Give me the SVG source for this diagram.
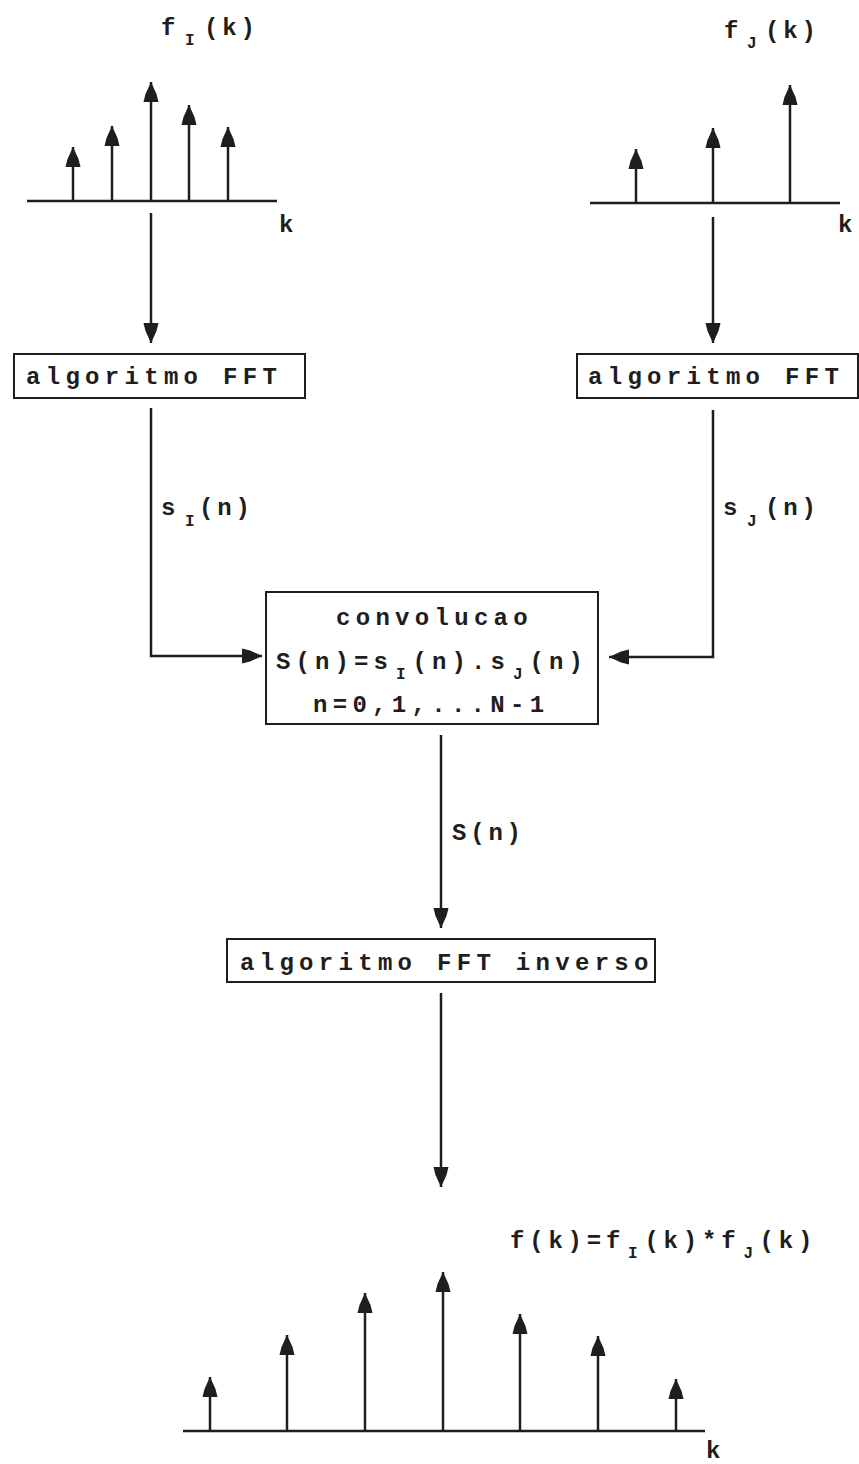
<svg xmlns="http://www.w3.org/2000/svg" width="859" height="1464" viewBox="0 0 859 1464">
<defs>
<style>
.t{font-family:"Liberation Mono","DejaVu Sans Mono",monospace;font-size:24px;font-weight:bold;fill:#1e1e1e}
.bx{letter-spacing:5.3px}
.lb{letter-spacing:3.8px}
.sub{font-family:"Liberation Mono","DejaVu Sans Mono",monospace;font-size:16px;font-weight:bold;fill:#1e1e1e}
.ln{stroke:#1e1e1e;stroke-width:2.5;fill:none}
.box{stroke:#1e1e1e;stroke-width:2;fill:#fff}
.ax{stroke:#1e1e1e;stroke-width:2.5}
</style>
<marker id="ah" markerUnits="userSpaceOnUse" markerWidth="20" markerHeight="16" viewBox="0 0 20 16" refX="20" refY="8" orient="auto">
<path d="M0,0.5 L8,2.5 L20,8 L8,13.5 L0,15.5 Z" fill="#1e1e1e"/>
</marker>
</defs>
<rect width="859" height="1464" fill="#fff"/>

<g id="plot-fI">
<line class="ax" x1="27" y1="201" x2="277" y2="201"/>
<line class="ln" x1="73" y1="201" x2="73" y2="147" marker-end="url(#ah)"/>
<line class="ln" x1="112" y1="201" x2="112" y2="126" marker-end="url(#ah)"/>
<line class="ln" x1="151" y1="201" x2="151" y2="82" marker-end="url(#ah)"/>
<line class="ln" x1="189" y1="201" x2="189" y2="105" marker-end="url(#ah)"/>
<line class="ln" x1="228" y1="201" x2="228" y2="127" marker-end="url(#ah)"/>
<text class="t" x="161" y="35">f</text><text class="sub" x="185" y="45">I</text><text class="t lb" x="204" y="35">(k)</text>
<text class="t" x="279" y="232">k</text>
</g>

<g id="plot-fJ">
<line class="ax" x1="590" y1="203" x2="840" y2="203"/>
<line class="ln" x1="636" y1="203" x2="636" y2="149" marker-end="url(#ah)"/>
<line class="ln" x1="713" y1="203" x2="713" y2="128" marker-end="url(#ah)"/>
<line class="ln" x1="790" y1="203" x2="790" y2="85" marker-end="url(#ah)"/>
<text class="t" x="724" y="38">f</text><text class="sub" x="747" y="48">J</text><text class="t lb" x="765" y="38">(k)</text>
<text class="t" x="838" y="232">k</text>
</g>

<g id="fft-left">
<rect class="box" x="14" y="354" width="291" height="44"/>
<text class="t bx" x="26" y="384">algoritmo FFT</text>
</g>

<g id="fft-right">
<rect class="box" x="577" y="354" width="281" height="44"/>
<text class="t bx" x="588" y="384">algoritmo FFT</text>
</g>

<g id="convolucao">
<rect class="box" x="266" y="592" width="332" height="132"/>
<text class="t bx" x="336" y="625">convolucao</text>
<text class="t"><tspan x="276 295.5 315 334.5 354 373.5" y="669">S(n)=s</tspan></text>
<text class="sub" x="396" y="679">I</text>
<text class="t"><tspan x="412.5 432 451.5 471 490.5" y="669">(n).s</tspan></text>
<text class="sub" x="513" y="679">J</text>
<text class="t"><tspan x="529.5 549 568.5" y="669">(n)</tspan></text>
<text class="t bx" x="313" y="712">n=0,1,...N-1</text>
</g>

<g id="fft-inverso">
<rect class="box" x="227" y="939" width="428" height="43"/>
<text class="t bx" x="240" y="970">algoritmo FFT inverso</text>
</g>

<g id="plot-f">
<line class="ax" x1="183" y1="1431" x2="705" y2="1431"/>
<line class="ln" x1="210" y1="1431" x2="210" y2="1377" marker-end="url(#ah)"/>
<line class="ln" x1="287" y1="1431" x2="287" y2="1335" marker-end="url(#ah)"/>
<line class="ln" x1="365" y1="1431" x2="365" y2="1293" marker-end="url(#ah)"/>
<line class="ln" x1="443" y1="1431" x2="443" y2="1272" marker-end="url(#ah)"/>
<line class="ln" x1="520" y1="1431" x2="520" y2="1314" marker-end="url(#ah)"/>
<line class="ln" x1="598" y1="1431" x2="598" y2="1336" marker-end="url(#ah)"/>
<line class="ln" x1="676" y1="1431" x2="676" y2="1379" marker-end="url(#ah)"/>
<text class="t"><tspan x="510 529.2 548.4 567.6 586.8 606" y="1248">f(k)=f</tspan></text>
<text class="sub" x="628" y="1258">I</text>
<text class="t"><tspan x="644.4 663.6 682.8 702 721.2" y="1248">(k)*f</tspan></text>
<text class="sub" x="743.5" y="1258">J</text>
<text class="t"><tspan x="759.6 778.8 798" y="1248">(k)</tspan></text>
<text class="t" x="706" y="1458">k</text>
</g>

<g id="connectors">
<line class="ln" x1="151" y1="213" x2="151" y2="343" marker-end="url(#ah)"/>
<line class="ln" x1="713" y1="217" x2="713" y2="343" marker-end="url(#ah)"/>
<polyline class="ln" points="151,408 151,656 262,656" marker-end="url(#ah)"/>
<polyline class="ln" points="713,410 713,657 609,657" marker-end="url(#ah)"/>
<line class="ln" x1="441" y1="735" x2="441" y2="928" marker-end="url(#ah)"/>
<line class="ln" x1="441" y1="993" x2="441" y2="1187" marker-end="url(#ah)"/>
<text class="t" x="161" y="515">s</text><text class="sub" x="185" y="526">I</text><text class="t lb" x="199" y="515">(n)</text>
<text class="t" x="723" y="515">s</text><text class="sub" x="747" y="526">J</text><text class="t lb" x="765" y="515">(n)</text>
<text class="t lb" x="452" y="840">S(n)</text>
</g>
</svg>
